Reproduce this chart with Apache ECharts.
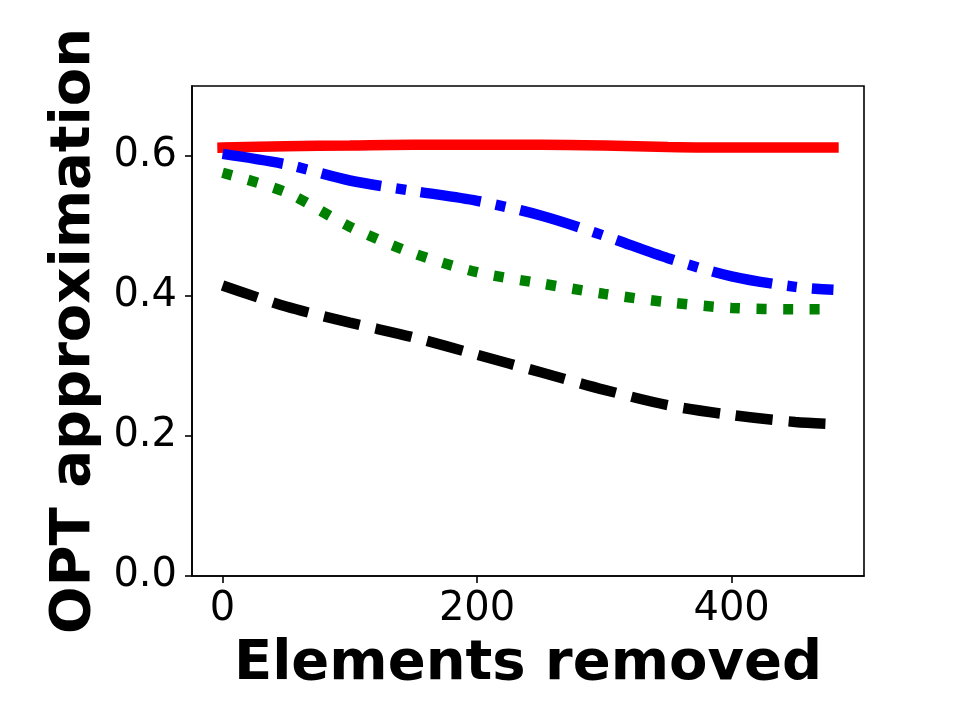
<!DOCTYPE html>
<html>
<head>
<meta charset="utf-8">
<script src="https://cdn.jsdelivr.net/npm/echarts@6/dist/echarts.min.js"></script>
<style>
  html, body { margin: 0; padding: 0; background: #fff; }
  #chart { width: 960px; height: 720px; }
</style>
</head>
<body>
<div id="chart"></div>
<script>
const removed = [0, 50, 100, 150, 200, 250, 300, 350, 400, 450, 480]

const redSolid   = [0.612, 0.614, 0.615, 0.616, 0.616, 0.616, 0.615, 0.613, 0.612, 0.612, 0.612]
const blueDashDot = [0.603, 0.588, 0.565, 0.550, 0.536, 0.515, 0.486, 0.454, 0.428, 0.413, 0.409]
const greenDotted = [0.576, 0.548, 0.499, 0.461, 0.434, 0.418, 0.403, 0.391, 0.383, 0.381, 0.381]
const blackDashed = [0.415, 0.385, 0.362, 0.341, 0.316, 0.291, 0.266, 0.244, 0.230, 0.220, 0.217]

const xTicks = [0, 200, 400]
const yTicks = [0, 0.2, 0.4, 0.6]

const font = 'DejaVu Sans'
const lw = 10.5

const pairs = (ys) => removed.map((x, i) => [x, ys[i]])

const makeSeries = (name, ys, color, dash, cap) => ({
  name,
  type: 'line',
  data: pairs(ys),
  smooth: 0.3,
  symbol: 'none',
  silent: true,
  lineStyle: { color, width: lw, type: dash, cap }
})

const chart = echarts.init(document.getElementById('chart'))

chart.setOption({
  animation: false,
  backgroundColor: '#fff',
  grid: {
    left: 192,
    right: 96,
    top: 86,
    bottom: 144,
    show: true,
    borderColor: '#000',
    borderWidth: 1.6,
    containLabel: false
  },
  xAxis: {
    type: 'value',
    min: -24,
    max: 504,
    name: 'Elements removed',
    nameLocation: 'middle',
    nameGap: 60,
    nameTextStyle: { fontFamily: font, fontWeight: 'bold', fontSize: 56, color: '#000' },
    axisLine: { show: true, onZero: false, lineStyle: { color: '#000', width: 1.6 } },
    axisTick: { show: true, length: 7, customValues: xTicks, lineStyle: { color: '#000', width: 1.6 } },
    axisLabel: {
      customValues: xTicks,
      margin: 14,
      fontFamily: font,
      fontSize: 40,
      color: '#000'
    },
    splitLine: { show: false }
  },
  yAxis: {
    type: 'value',
    min: 0,
    max: 0.7,
    name: 'OPT approximation',
    nameLocation: 'middle',
    nameGap: 88,
    nameTextStyle: { fontFamily: font, fontWeight: 'bold', fontSize: 56, color: '#000' },
    axisLine: { show: true, onZero: false, lineStyle: { color: '#000', width: 1.6 } },
    axisTick: { show: true, length: 7, customValues: yTicks, lineStyle: { color: '#000', width: 1.6 } },
    axisLabel: {
      customValues: yTicks,
      margin: 15,
      fontFamily: font,
      fontSize: 40,
      color: '#000',
      formatter: (v) => v.toFixed(1)
    },
    splitLine: { show: false }
  },
  series: [
    makeSeries('red', redSolid, '#ff0000', 'solid', 'square'),
    makeSeries('blue', blueDashDot, '#0000ff', [61, 15, 10, 15], 'butt'),
    makeSeries('green', greenDotted, '#008000', [10, 16.5], 'butt'),
    makeSeries('black', blackDashed, '#000000', [37, 16], 'butt')
  ]
})
</script>
</body>
</html>
